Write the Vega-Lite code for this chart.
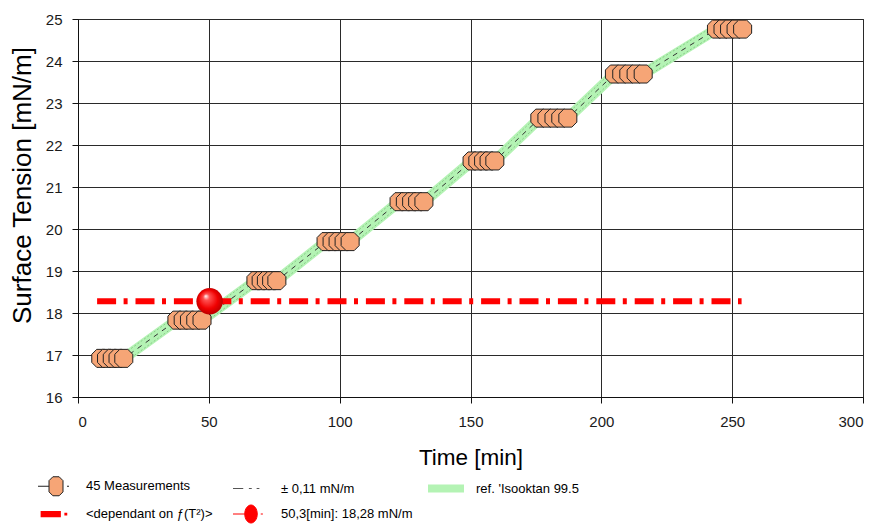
{
  "$schema": "https://vega.github.io/schema/vega-lite/v6.json",
  "width": 785,
  "height": 378,
  "autosize": {"type": "none"},
  "padding": {"left": 78, "top": 19, "right": 13, "bottom": 128},
  "background": "white",
  "config": {
    "font": "Liberation Sans",
    "view": {"stroke": "#222", "strokeWidth": 1},
    "axis": {
      "domainColor": "#111",
      "gridColor": "#2a2a2a",
      "gridWidth": 1,
      "tickColor": "#111",
      "tickSize": 6,
      "labelFont": "Liberation Sans",
      "labelFontSize": 15,
      "labelColor": "#1a1a1a",
      "titleFont": "Liberation Sans",
      "titleFontWeight": "normal",
      "titleColor": "#000"
    },
    "legend": {
      "title": null,
      "orient": "none",
      "legendX": -35,
      "legendY": 454,
      "direction": "horizontal",
      "columns": 3,
      "gridAlign": "all",
      "columnPadding": 13,
      "rowPadding": 3,
      "padding": 0,
      "symbolSize": 625,
      "symbolOpacity": 1,
      "symbolStrokeWidth": 1,
      "labelFont": "Liberation Sans",
      "labelFontSize": 13,
      "labelColor": "#000",
      "labelOffset": 17
    }
  },
  "datasets": {
    "meas": [
      {"t": 8.7, "st": 16.92, "lo": 16.81, "hi": 17.03},
      {"t": 10.9, "st": 16.92, "lo": 16.81, "hi": 17.03},
      {"t": 13.1, "st": 16.92, "lo": 16.81, "hi": 17.03},
      {"t": 15.3, "st": 16.92, "lo": 16.81, "hi": 17.03},
      {"t": 17.5, "st": 16.92, "lo": 16.81, "hi": 17.03},
      {"t": 37.8, "st": 17.83, "lo": 17.72, "hi": 17.94},
      {"t": 40.2, "st": 17.83, "lo": 17.72, "hi": 17.94},
      {"t": 42.6, "st": 17.83, "lo": 17.72, "hi": 17.94},
      {"t": 45.0, "st": 17.83, "lo": 17.72, "hi": 17.94},
      {"t": 47.4, "st": 17.83, "lo": 17.72, "hi": 17.94},
      {"t": 68.0, "st": 18.77, "lo": 18.66, "hi": 18.88},
      {"t": 70.0, "st": 18.77, "lo": 18.66, "hi": 18.88},
      {"t": 72.0, "st": 18.77, "lo": 18.66, "hi": 18.88},
      {"t": 74.0, "st": 18.77, "lo": 18.66, "hi": 18.88},
      {"t": 76.0, "st": 18.77, "lo": 18.66, "hi": 18.88},
      {"t": 94.8, "st": 19.70, "lo": 19.59, "hi": 19.81},
      {"t": 97.1, "st": 19.70, "lo": 19.59, "hi": 19.81},
      {"t": 99.4, "st": 19.70, "lo": 19.59, "hi": 19.81},
      {"t": 101.7, "st": 19.70, "lo": 19.59, "hi": 19.81},
      {"t": 104.0, "st": 19.70, "lo": 19.59, "hi": 19.81},
      {"t": 122.7, "st": 20.65, "lo": 20.54, "hi": 20.76},
      {"t": 125.1, "st": 20.65, "lo": 20.54, "hi": 20.76},
      {"t": 127.5, "st": 20.65, "lo": 20.54, "hi": 20.76},
      {"t": 129.8, "st": 20.65, "lo": 20.54, "hi": 20.76},
      {"t": 132.2, "st": 20.65, "lo": 20.54, "hi": 20.76},
      {"t": 150.6, "st": 21.62, "lo": 21.51, "hi": 21.73},
      {"t": 152.8, "st": 21.62, "lo": 21.51, "hi": 21.73},
      {"t": 155.0, "st": 21.62, "lo": 21.51, "hi": 21.73},
      {"t": 157.1, "st": 21.62, "lo": 21.51, "hi": 21.73},
      {"t": 159.3, "st": 21.62, "lo": 21.51, "hi": 21.73},
      {"t": 176.5, "st": 22.64, "lo": 22.53, "hi": 22.75},
      {"t": 179.2, "st": 22.64, "lo": 22.53, "hi": 22.75},
      {"t": 181.9, "st": 22.64, "lo": 22.53, "hi": 22.75},
      {"t": 184.5, "st": 22.64, "lo": 22.53, "hi": 22.75},
      {"t": 187.2, "st": 22.64, "lo": 22.53, "hi": 22.75},
      {"t": 205.0, "st": 23.69, "lo": 23.58, "hi": 23.80},
      {"t": 207.8, "st": 23.69, "lo": 23.58, "hi": 23.80},
      {"t": 210.5, "st": 23.69, "lo": 23.58, "hi": 23.80},
      {"t": 213.3, "st": 23.69, "lo": 23.58, "hi": 23.80},
      {"t": 216.0, "st": 23.69, "lo": 23.58, "hi": 23.80},
      {"t": 244.0, "st": 24.76, "lo": 24.65, "hi": 24.87},
      {"t": 246.5, "st": 24.76, "lo": 24.65, "hi": 24.87},
      {"t": 249.0, "st": 24.76, "lo": 24.65, "hi": 24.87},
      {"t": 251.5, "st": 24.76, "lo": 24.65, "hi": 24.87},
      {"t": 254.0, "st": 24.76, "lo": 24.65, "hi": 24.87}
    ],
    "refline": [
      {"t": 7.3, "st": 18.28},
      {"t": 253.6, "st": 18.28}
    ],
    "result": [
      {"t": 50.3, "st": 18.28}
    ],
    "legendrows": []
  },
  "encoding": {
    "x": {
      "field": "t",
      "type": "quantitative",
      "scale": {"domain": [0, 300], "nice": false, "zero": false},
      "axis": {
        "title": "Time [min]",
        "values": [0, 50, 100, 150, 200, 250, 300],
        "grid": true,
        "labelPadding": 11,
        "titleFontSize": 22.5,
        "titlePadding": 17
      }
    },
    "y": {
      "field": "st",
      "type": "quantitative",
      "scale": {"domain": [16, 25], "nice": false, "zero": false},
      "axis": {
        "title": "Surface Tension [mN/m]",
        "values": [16, 17, 18, 19, 20, 21, 22, 23, 24, 25],
        "grid": true,
        "labelPadding": 10,
        "titleFontSize": 26,
        "titlePadding": 10,
        "titleY": 166
      }
    }
  },
  "layer": [
    {
      "data": {"name": "meas"},
      "mark": {"type": "line", "color": "#b4f3b4", "strokeWidth": 11, "strokeCap": "butt", "strokeJoin": "round"},
      "encoding": {}
    },
    {
      "data": {"name": "meas"},
      "mark": {"type": "line", "color": "#7cc07c", "strokeWidth": 0.8, "strokeDash": [2, 2]},
      "encoding": {"y": {"field": "hi", "type": "quantitative", "title": "Surface Tension [mN/m]"}}
    },
    {
      "data": {"name": "meas"},
      "mark": {"type": "line", "color": "#7cc07c", "strokeWidth": 0.8, "strokeDash": [2, 2]},
      "encoding": {"y": {"field": "lo", "type": "quantitative", "title": "Surface Tension [mN/m]"}}
    },
    {
      "data": {"name": "meas"},
      "mark": {"type": "line", "color": "#333", "strokeWidth": 1, "strokeDash": [5, 5]},
      "encoding": {}
    },
    {
      "data": {"name": "refline"},
      "mark": {"type": "line", "color": "#ff0000", "strokeWidth": 6, "strokeCap": "butt", "strokeDash": [19, 7.5, 4, 7.9]},
      "encoding": {}
    },
    {
      "data": {"name": "meas"},
      "mark": {
        "type": "point",
        "filled": true,
        "opacity": 1,
        "shape": "M-0.45,-1H0.45L1,-0.45V0.45L0.45,1H-0.45L-1,0.45V-0.45Z",
        "size": 324,
        "fill": "#f6a576",
        "stroke": "#222",
        "strokeWidth": 1
      },
      "encoding": {}
    },
    {
      "data": {"name": "result"},
      "mark": {
        "type": "point",
        "filled": true,
        "opacity": 1,
        "shape": "circle",
        "size": 700,
        "fill": {
          "gradient": "radial",
          "x1": 0.35, "y1": 0.3, "r1": 0,
          "x2": 0.5, "y2": 0.5, "r2": 0.55,
          "stops": [
            {"offset": 0, "color": "#ffffff"},
            {"offset": 0.22, "color": "#ff5050"},
            {"offset": 0.65, "color": "#f00000"},
            {"offset": 1, "color": "#b00000"}
          ]
        },
        "stroke": null
      },
      "encoding": {}
    },
    {
      "data": {"name": "legendrows"},
      "mark": {"type": "point", "opacity": 1, "strokeWidth": 1},
      "encoding": {
        "fill": {
          "datum": "45 Measurements",
          "type": "nominal",
          "scale": {
            "domain": ["45 Measurements", "± 0,11 mN/m", "ref. 'Isooktan 99.5", "<dependant on ƒ(T²)>", "50,3[min]: 18,28 mN/m"],
            "range": ["#f6a576", "transparent", "#b4f3b4", "#ff0000", "#ff0000"]
          },
          "legend": {"title": null}
        },
        "stroke": {
          "datum": "45 Measurements",
          "type": "nominal",
          "scale": {
            "domain": ["45 Measurements", "± 0,11 mN/m", "ref. 'Isooktan 99.5", "<dependant on ƒ(T²)>", "50,3[min]: 18,28 mN/m"],
            "range": ["#222222", "#555555", "transparent", "transparent", "#ff0000"]
          },
          "legend": {"title": null}
        },
        "shape": {
          "datum": "45 Measurements",
          "type": "nominal",
          "scale": {
            "domain": ["45 Measurements", "± 0,11 mN/m", "ref. 'Isooktan 99.5", "<dependant on ƒ(T²)>", "50,3[min]: 18,28 mN/m"],
            "range": [
              "M-1.44,0H-0.56M0.88,0H1.04M-0.25,-0.76H0.25L0.56,-0.45V0.45L0.25,0.76H-0.25L-0.56,0.45V-0.45Z",
              "M-1.44,0H-0.62M-0.17,0H0.06M0.45,0H0.67",
              "M-1.44,-0.32H1.44V0.32H-1.44Z",
              "M-1.23,-0.25H0.39V0.25H-1.23ZM0.67,-0.11H0.9V0.11H0.67Z",
              "M-1.44,0H-0.5M0.78,0H0.95M-0.5,0A0.5,0.72 0 1,0 0.5,0A0.5,0.72 0 1,0 -0.5,0Z"
            ]
          },
          "legend": {"title": null}
        }
      }
    }
  ]
}
